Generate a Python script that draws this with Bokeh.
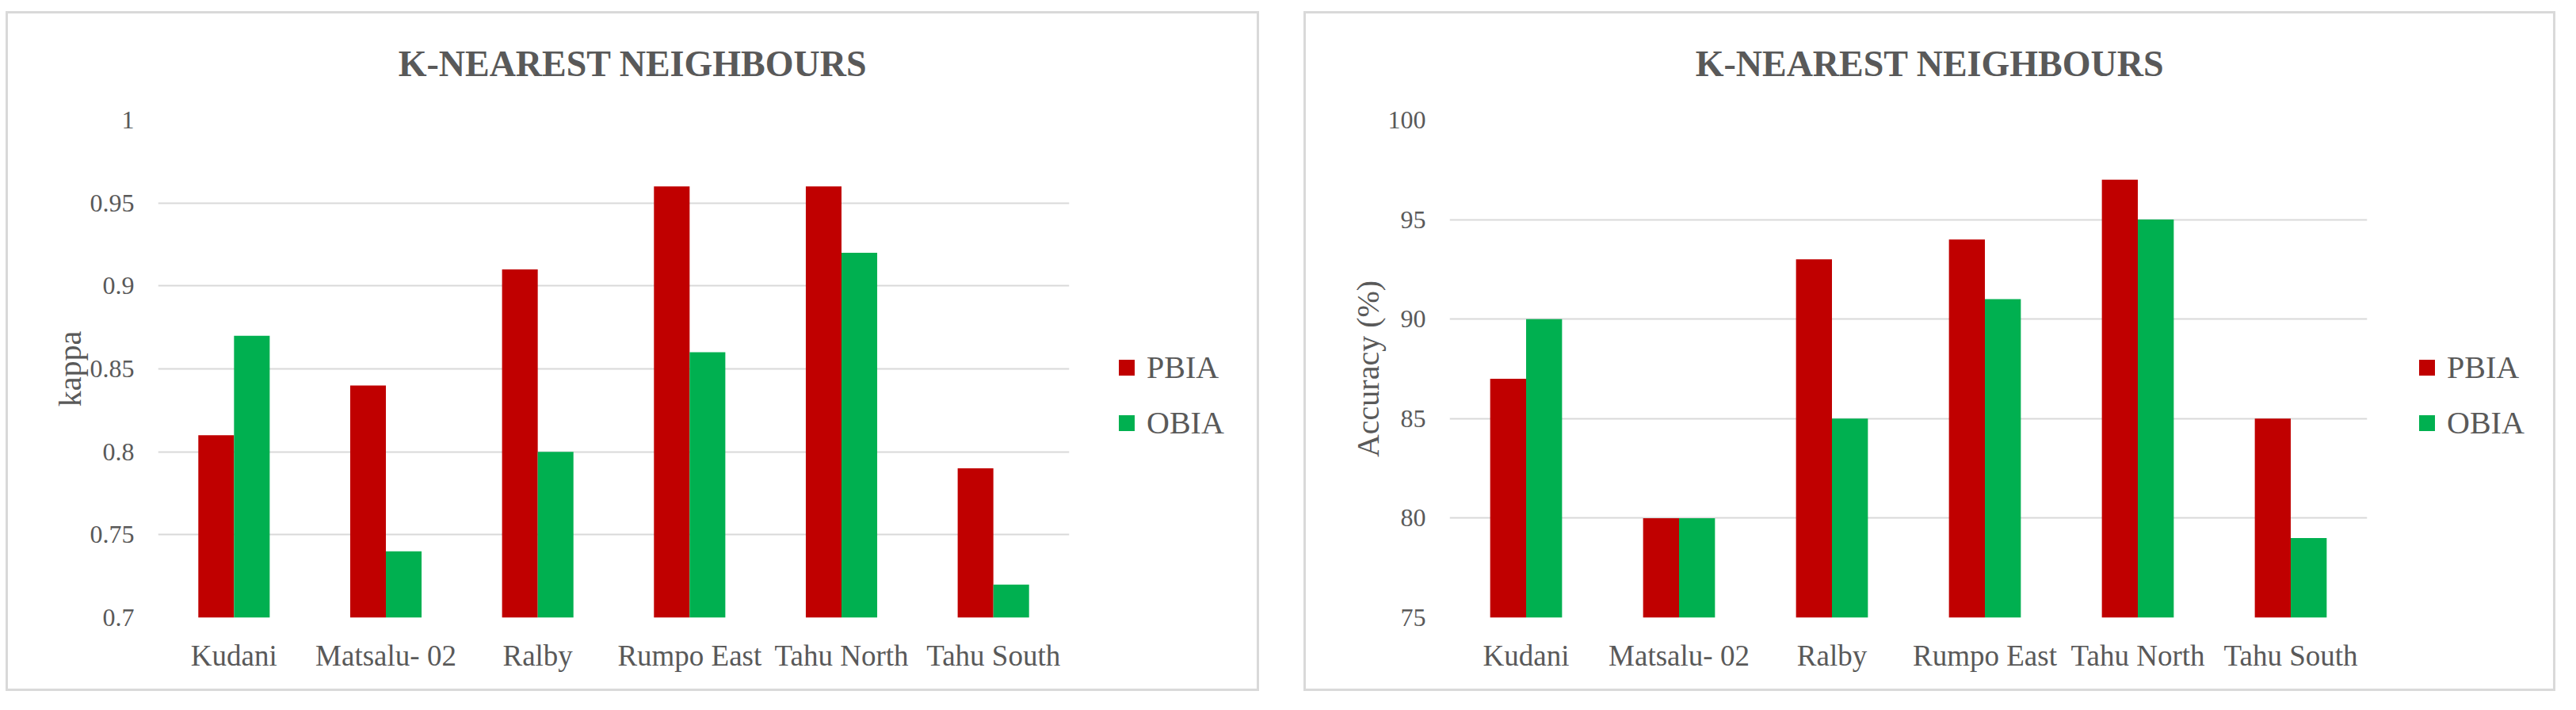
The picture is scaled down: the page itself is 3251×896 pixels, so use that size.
from bokeh.plotting import figure
from bokeh.models import Range1d, FixedTicker, Legend, LegendItem, ColumnDataSource, Label
from bokeh.transform import dodge
from bokeh.layouts import row, column
from bokeh.embed import file_html
from bokeh.resources import INLINE

# ---------------- data ----------------
sites = ["Kudani", "Matsalu- 02", "Ralby", "Rumpo East", "Tahu North", "Tahu South"]
series_names = ["PBIA", "OBIA"]

kappa_pbia = [0.81, 0.84, 0.91, 0.96, 0.96, 0.79]
kappa_obia = [0.87, 0.74, 0.80, 0.86, 0.92, 0.72]
kappa_ticks = [0.7, 0.75, 0.8, 0.85, 0.9, 0.95, 1.0]
kappa_tick_labels = ["0.7", "0.75", "0.8", "0.85", "0.9", "0.95", "1"]

acc_pbia = [87, 80, 93, 94, 97, 85]
acc_obia = [90, 80, 85, 91, 95, 79]
acc_ticks = [75, 80, 85, 90, 95, 100]
acc_tick_labels = ["75", "80", "85", "90", "95", "100"]

title_text = "K-NEAREST NEIGHBOURS"

# ---------------- style ----------------
RED = "#C00000"
GREEN = "#00B050"
TXT = "#595959"
GRID = "#d9d9d9"
FONT = "Liberation Serif"

PANEL_H = 858
TITLE_H = 110
TITLE_CY = 44          # title centre, px above bottom of title strip
CHART_H = PANEL_H - TITLE_H
PANEL_STYLE = {"outline": "3px solid #d9d9d9", "outline-offset": "-3px"}


def transparent(f):
    f.border_fill_alpha = 0
    f.background_fill_alpha = 0


def blank_fig(w, h):
    f = figure(width=w, height=h, x_range=Range1d(0, w), y_range=Range1d(0, h),
               x_axis_type=None, y_axis_type=None, output_backend="svg",
               toolbar_location=None, min_border=0, outline_line_color=None)
    f.grid.visible = False
    transparent(f)
    return f


def make_panel(pbia, obia, ticks, tick_labels, ylabel, panel_w, mb_left, chart_w, leg_x):
    # ---- title strip ----
    tf = blank_fig(panel_w, TITLE_H)
    tf.add_layout(Label(x=panel_w / 2, y=TITLE_CY, text=title_text,
                        text_align="center", text_baseline="middle",
                        text_font=FONT, text_font_size="46px", text_font_style="bold",
                        text_color=TXT))

    # ---- chart ----
    src = ColumnDataSource(dict(cat=sites, pbia=pbia, obia=obia))
    p = figure(x_range=sites, y_range=Range1d(ticks[0], ticks[-1]),
               width=chart_w, height=CHART_H, output_backend="svg", toolbar_location=None,
               min_border_left=mb_left, min_border_right=3,
               min_border_top=27, min_border_bottom=93)
    transparent(p)
    base = ticks[0]
    p.vbar(x=dodge("cat", -0.1175, range=p.x_range), top="pbia", bottom=base,
           width=0.235, fill_color=RED, line_color=None, source=src)
    p.vbar(x=dodge("cat", 0.1175, range=p.x_range), top="obia", bottom=base,
           width=0.235, fill_color=GREEN, line_color=None, source=src)

    p.outline_line_color = None
    p.xgrid.grid_line_color = None
    p.ygrid.grid_line_color = GRID
    p.ygrid.grid_line_width = 2

    for ax in (p.xaxis[0], p.yaxis[0]):
        ax.axis_line_color = None
        ax.major_tick_line_color = None
        ax.minor_tick_line_color = None
        ax.major_tick_in = 0
        ax.major_tick_out = 0
        ax.major_label_text_font = FONT
        ax.major_label_text_color = TXT

    p.xaxis.major_label_text_font_size = "37px"
    p.xaxis.major_label_standoff = 27

    p.yaxis.ticker = FixedTicker(ticks=ticks)
    p.yaxis.major_label_overrides = {t: l for t, l in zip(ticks, tick_labels)}
    p.yaxis.major_label_text_font_size = "32px"
    p.yaxis.major_label_standoff = 30
    p.yaxis.axis_label = ylabel
    p.yaxis.axis_label_text_font = FONT
    p.yaxis.axis_label_text_font_size = "40px"
    p.yaxis.axis_label_text_font_style = "normal"
    p.yaxis.axis_label_text_color = TXT
    p.yaxis.axis_label_standoff = 0

    # ---- legend strip (proxy renderers, hidden, only feed the legend swatches) ----
    leg_w = panel_w - chart_w
    lf = blank_fig(leg_w, CHART_H)
    k1 = lf.vbar(x=[0], top=[0], width=0, fill_color=RED, line_color=None, visible=False)
    k2 = lf.vbar(x=[0], top=[0], width=0, fill_color=GREEN, line_color=None, visible=False)
    legend = Legend(items=[LegendItem(label=series_names[0], renderers=[k1]),
                           LegendItem(label=series_names[1], renderers=[k2])],
                    location=(leg_x, 222), orientation="vertical",
                    glyph_width=25, glyph_height=25, label_standoff=13,
                    label_text_font=FONT, label_text_font_size="40px",
                    label_text_color=TXT, border_line_color=None,
                    background_fill_alpha=0, inactive_fill_alpha=0,
                    padding=0, margin=0, spacing=23)
    lf.add_layout(legend)

    return column(tf, row(p, lf), styles=PANEL_STYLE)


panel1 = make_panel(kappa_pbia, kappa_obia, kappa_ticks, kappa_tick_labels, "kappa",
                    1582, 192, 1345, 57)
panel2 = make_panel(acc_pbia, acc_obia, acc_ticks, acc_tick_labels, "Accuracy (%)",
                    1580, 184, 1345, 60)
panel1.margin = (14, 0, 0, 7)
panel2.margin = (14, 0, 0, 56)

layout = row(panel1, panel2)
open("out.html", "w").write(file_html(layout, INLINE))
